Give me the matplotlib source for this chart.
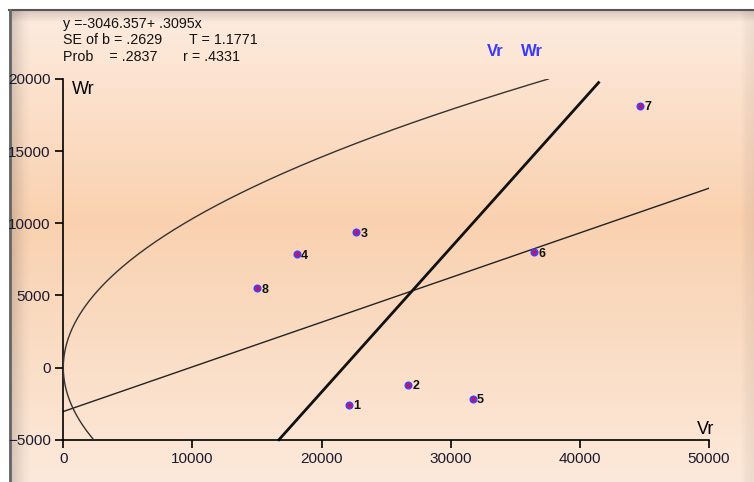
import numpy as np
import matplotlib
matplotlib.use("Agg")
import matplotlib.pyplot as plt

plt.rcParams['font.family'] = ['Liberation Sans', 'DejaVu Sans']

# array points (Vr, Wr)
vr = [22100, 26700, 22700, 18100, 31700, 36450, 44650, 15000]
wr = [-2600, -1180, 9375, 7850, -2150, 7990, 18125, 5490]
point_labels = ['1', '2', '3', '4', '5', '6', '7', '8']

# regression Wr = a + b*Vr
reg_a = -3046.357
reg_b = 0.3095
reg_x = [0, 50000]

# limiting parabola Wr^2 = Vp * Vr
vp = 10650
parab_wr = np.linspace(-5000, 20000, 300)
parab_vr = parab_wr ** 2 / vp

# line of unit slope
unit_c = -21700
unit_wr = [-5000, 19750]

stats_lines = ["y =-3046.357+ .3095x",
               "SE of b = .2629",
               "Prob    = .2837"]
stats_right = ["", "T = 1.1771", "r = .4331"]

W, H = 754, 482
fig = plt.figure(figsize=(W / 100, H / 100), dpi=100)

# background panel with gradient
bg = fig.add_axes([0, 0, 1, 1])
bg.axis('off')
rows = np.arange(H)
stops_y = [10, 22, 60, 220, 330, 470, 482]
stops_c = np.array([[0.86, 0.78, 0.74],
                    [0.99, 0.92, 0.87],
                    [0.99, 0.90, 0.83],
                    [0.98, 0.82, 0.69],
                    [0.98, 0.86, 0.76],
                    [0.99, 0.91, 0.85],
                    [0.98, 0.91, 0.86]])
col = np.stack([np.interp(rows, stops_y, stops_c[:, k]) for k in range(3)], axis=1)
img = np.repeat(col[:, None, :], W, axis=1)
# left bevel
xs = np.arange(W)
shade = np.interp(xs, [9, 12, 24, 30], [0.80, 0.86, 0.97, 1.0])
img = img * shade[None, :, None]
rshade = np.interp(xs, [740, 746, 754], [1.0, 0.96, 0.94])
img = img * rshade[None, :, None]
img[:10, :, :] = 1.0
img[:, :9, :] = 1.0
bg.imshow(img, extent=[0, W, H, 0], aspect='auto', interpolation='bilinear')
bg.set_xlim(0, W)
bg.set_ylim(H, 0)
bg.plot([9, W], [10, 10], color='#555555', lw=1.5)
bg.plot([10, 10], [10, H], color='#666666', lw=2)

# stats text
ys = [24, 40, 57]
for s, r, y in zip(stats_lines, stats_right, ys):
    bg.text(63, y, s, fontsize=10.3, va='center', ha='left', color='#111111')
    if r:
        bg.text(189 if y == 40 else 183, y, r, fontsize=10.3, va='center', ha='left', color='#111111')
bg.text(487, 52, "Vr", fontsize=12, color='#3a3aff', fontweight='bold', va='center')
bg.text(521, 52, "Wr", fontsize=12, color='#3a3aff', fontweight='bold', va='center')

# main axes
x0, x1, y0, y1 = 63.3, 709, 79, 439.7
ax = fig.add_axes([x0 / W, (H - y1) / H, (x1 - x0) / W, (y1 - y0) / H])
ax.set_facecolor('none')
ax.set_xlim(0, 50000)
ax.set_ylim(-5000, 20000)
for side in ['top', 'right']:
    ax.spines[side].set_visible(False)
for side in ['left', 'bottom']:
    ax.spines[side].set_linewidth(1.2)
ax.set_xticks(range(0, 50001, 10000))
ax.set_yticks(range(-5000, 20001, 5000))
ax.tick_params(direction='out', length=6, width=1.2, labelsize=11,
               labelcolor='#1a1a30', pad=3)

reg_y = [reg_a + reg_b * x for x in reg_x]
ax.plot(reg_x, reg_y, color='#222222', lw=1.0)
ax.plot(parab_vr, parab_wr, color='#333333', lw=1.0, zorder=3)
ax.plot([w - unit_c for w in unit_wr], unit_wr, color='#111111', lw=2.0, clip_on=False)

ax.plot(vr, wr, 'o', ms=4.5, mfc='#d01050', mec='#4040ff', mew=1.3, zorder=4)
for x, y, t in zip(vr, wr, point_labels):
    ax.annotate(t, (x, y), xytext=(3, -1), textcoords='offset points',
                fontsize=9, fontweight='bold', va='center', ha='left', color='#111111')

ax.text(0.0135, 0.97, "Wr", transform=ax.transAxes, fontsize=13, va='center', ha='left')
ax.text(0.981, 0.027, "Vr", transform=ax.transAxes, fontsize=13, va='center', ha='left')

fig.savefig("out.png", dpi=100)
